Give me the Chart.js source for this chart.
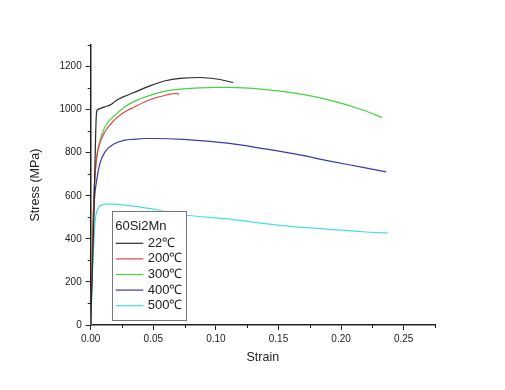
<!DOCTYPE html>
<html>
<head>
<meta charset="utf-8">
<script src="https://cdn.jsdelivr.net/npm/chart.js@4"></script>
<style>
  html, body { margin: 0; padding: 0; background: #fff; }
  #wrap { width: 505px; height: 390px; }
</style>
</head>
<body>
<div id="wrap"><canvas id="c" width="505" height="390"></canvas></div>
<script>
// ---- data ----
const legendTitle = '60Si2Mn';
const seriesLabels = ['22℃', '200℃', '300℃', '400℃', '500℃'];

const strain22 = [0, 0.0025, 0.0045, 0.0053, 0.008, 0.0114, 0.0154, 0.018, 0.0207, 0.026, 0.034, 0.0473, 0.0606, 0.0738, 0.0872, 0.1005, 0.1138];
const stress22 = [0, 500, 975, 998, 1006, 1013, 1021, 1031, 1044, 1059, 1078, 1110, 1135, 1146, 1149, 1142, 1126];

const strain200 = [0, 0.0015, 0.003, 0.0045, 0.0061, 0.0114, 0.0194, 0.0274, 0.034, 0.0473, 0.0606, 0.069, 0.0705];
const stress200 = [0, 400, 650, 760, 820, 897, 955, 990, 1010, 1046, 1068, 1075, 1070];

const strain300 = [0, 0.0015, 0.003, 0.0045, 0.0061, 0.0114, 0.0194, 0.0274, 0.034, 0.0473, 0.0606, 0.0738, 0.0872, 0.1005, 0.111, 0.1377, 0.164, 0.191, 0.2174, 0.2325];
const stress300 = [0, 400, 660, 770, 827, 920, 974, 1013, 1036, 1066, 1087, 1096, 1101, 1103, 1103, 1094, 1075, 1044, 998, 964];

const strain400 = [0, 0.0015, 0.003, 0.0048, 0.0074, 0.0114, 0.0194, 0.0274, 0.034, 0.0433, 0.05, 0.074, 0.111, 0.1377, 0.164, 0.191, 0.2174, 0.236];
const stress400 = [0, 350, 580, 673, 750, 804, 843, 858, 862, 866, 866, 862, 843, 819, 793, 761, 732, 711];

const strain500 = [0, 0.0015, 0.0034, 0.0058, 0.0085, 0.0114, 0.0194, 0.0274, 0.034, 0.05, 0.074, 0.111, 0.1377, 0.164, 0.191, 0.2174, 0.2373];
const stress500 = [0, 250, 473, 540, 556, 561, 561, 557, 552, 538, 512, 492, 472, 456, 444, 433, 427];

const xTickValues = [0, 0.05, 0.10, 0.15, 0.20, 0.25];
const yTickValues = [0, 200, 400, 600, 800, 1000, 1200];

const colors = ['#2b2b2b', '#e04444', '#44d444', '#3a3aaa', '#44e0e0'];

function pts(xs, ys) { return xs.map((x, i) => ({ x: x, y: ys[i] })); }
const allX = [strain22, strain200, strain300, strain400, strain500];
const allY = [stress22, stress200, stress300, stress400, stress500];

const datasets = seriesLabels.map((lab, i) => ({
  label: lab,
  data: pts(allX[i], allY[i]),
  borderColor: colors[i],
  backgroundColor: colors[i],
  borderWidth: 1.2,
  pointRadius: 0,
  showLine: true,
  fill: false,
  cubicInterpolationMode: 'monotone'
}));

const FONT = "'Liberation Sans', Arial, sans-serif";
const AX = '#222';

// minor ticks + in-plot legend
const extras = {
  id: 'extras',
  afterDraw(chart) {
    const ctx = chart.ctx;
    const xs = chart.scales.x, ys = chart.scales.y;
    const ca = chart.chartArea;
    ctx.save();
    ctx.strokeStyle = AX;
    ctx.lineWidth = 1;
    for (let v = 0.025; v <= 0.2751; v += 0.05) {
      const px = Math.round(xs.getPixelForValue(v)) + 0.5;
      ctx.beginPath(); ctx.moveTo(px, ca.bottom); ctx.lineTo(px, ca.bottom + 3); ctx.stroke();
    }
    for (let v = 100; v <= 1300; v += 200) {
      const py = Math.round(ys.getPixelForValue(v)) + 0.5;
      ctx.beginPath(); ctx.moveTo(ca.left, py); ctx.lineTo(ca.left - 3, py); ctx.stroke();
    }
    const bx = ca.left + 21, by = ca.top + 165.7, bw = 74.3, bh = 109.3;
    ctx.fillStyle = '#fff';
    ctx.fillRect(bx, by, bw, bh);
    ctx.strokeStyle = '#777';
    ctx.lineWidth = 1;
    ctx.strokeRect(Math.round(bx) + 0.5, Math.round(by) + 0.5, Math.round(bw), Math.round(bh));
    ctx.fillStyle = '#222';
    ctx.font = '13px ' + FONT;
    ctx.textBaseline = 'middle';
    ctx.textAlign = 'left';
    ctx.fillText(legendTitle, bx + 3.5, by + 16);
    chart.data.datasets.forEach((ds, i) => {
      const cy = by + 32.6 + i * 15.6;
      ctx.strokeStyle = ds.borderColor;
      ctx.lineWidth = 1.2;
      ctx.beginPath(); ctx.moveTo(bx + 4, cy); ctx.lineTo(bx + 31.6, cy); ctx.stroke();
      ctx.fillStyle = '#222';
      ctx.fillText(ds.label, bx + 36, cy);
    });
    ctx.restore();
  }
};

new Chart(document.getElementById('c'), {
  type: 'scatter',
  data: { datasets: datasets },
  options: {
    responsive: false,
    animation: false,
    devicePixelRatio: 1,
    layout: { padding: { top: 45, right: 70, bottom: 0, left: 0 } },
    plugins: { legend: { display: false }, tooltip: { enabled: false } },
    scales: {
      x: {
        type: 'linear',
        min: 0, max: 0.275,
        afterFit(s) { s.height = 65; },
        afterBuildTicks(s) { s.ticks = xTickValues.map(v => ({ value: v })); },
        ticks: {
          padding: 3,
          color: AX,
          font: { family: FONT, size: 10 },
          callback: v => Number(v).toFixed(2),
          maxRotation: 0
        },
        grid: { drawOnChartArea: false, drawTicks: true, tickLength: 5, tickColor: AX, tickWidth: 1 },
        border: { display: true, color: AX, width: 1.5 },
        title: { display: true, text: 'Strain', color: AX, font: { family: FONT, size: 12.5 }, padding: { top: 0, bottom: 24.5 } }
      },
      y: {
        type: 'linear',
        min: 0, max: 1300,
        afterFit(s) { s.width = 90.7; },
        afterBuildTicks(s) { s.ticks = yTickValues.map(v => ({ value: v })); },
        ticks: {
          padding: 4,
          color: AX,
          font: { family: FONT, size: 10 },
          callback: v => String(v)
        },
        grid: { drawOnChartArea: false, drawTicks: true, tickLength: 5, tickColor: AX, tickWidth: 1 },
        border: { display: true, color: AX, width: 1.5 },
        title: { display: true, text: 'Stress (MPa)', color: AX, font: { family: FONT, size: 12.5 }, padding: { top: 28, bottom: 0 } }
      }
    }
  },
  plugins: [extras]
});
</script>
</body>
</html>
